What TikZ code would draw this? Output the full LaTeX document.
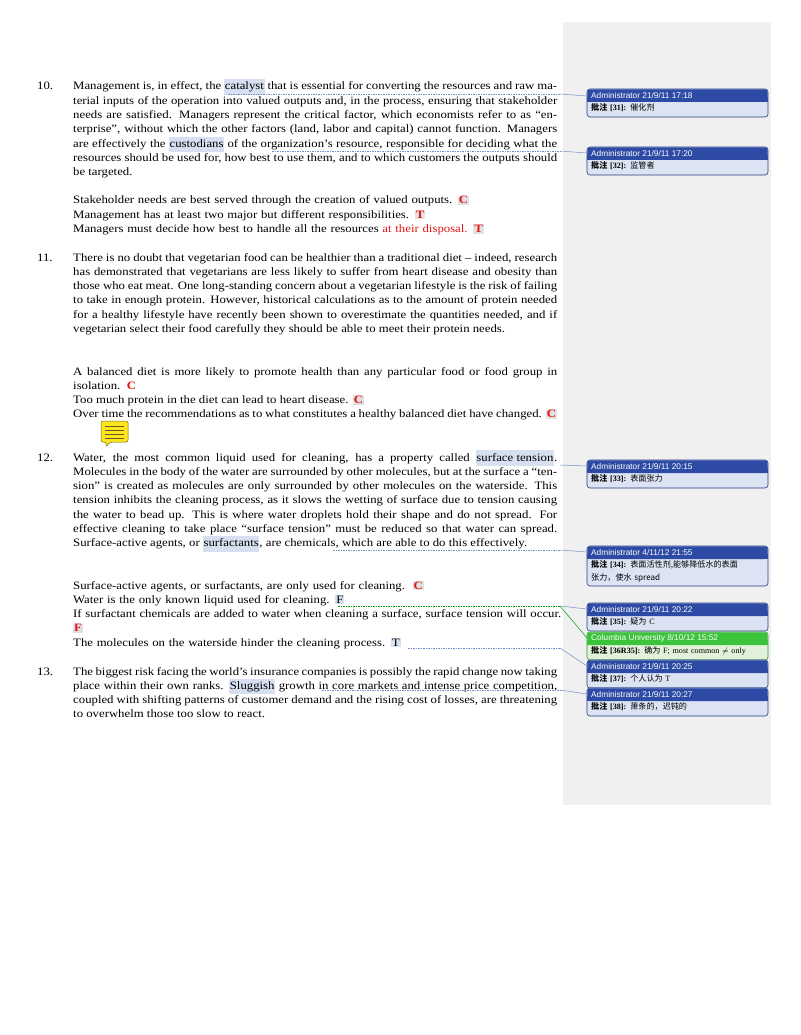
\documentclass[tikz,border=0pt]{standalone}
\usepackage{fontspec}
\setmainfont{Liberation Serif}[FakeStretch=1.13]
\newfontfamily\cmtserif{Liberation Serif}
\newfontfamily\cjk{Noto Sans CJK SC}
\newfontfamily\hsans{Liberation Sans}
\definecolor{hl}{RGB}{214,224,240}
\definecolor{ansbg}{RGB}{225,225,225}
\definecolor{ansred}{RGB}{230,20,20}
\definecolor{panel}{RGB}{240,240,240}
\definecolor{hdr}{RGB}{45,75,165}
\definecolor{bodyc}{RGB}{220,228,244}
\definecolor{ghdr}{RGB}{60,195,60}
\definecolor{gbody}{RGB}{226,242,218}
\definecolor{lnk}{RGB}{120,140,200}
\newcommand{\hlw}[1]{{\setlength{\fboxsep}{0.6pt}\colorbox{hl}{\strut #1}}}
\newcommand{\ans}[1]{{\setlength{\fboxsep}{1pt}\colorbox{ansbg}{\textcolor{ansred}{\textbf{#1}}}}}
\newcommand{\bans}[1]{{\setlength{\fboxsep}{1pt}\colorbox{hl}{#1}}}
\newcommand{\pz}[1]{{\cjk\bfseries 批注} {\cmtserif\bfseries [#1]:}}
\begin{document}
\begin{tikzpicture}[x=1pt,y=-1pt,
  para/.style={anchor=base west,inner sep=0pt,text width=484pt,align=justify,font=\fontsize{11.3}{14.3}\selectfont},
  lines/.style={anchor=base west,inner sep=0pt,text width=490pt,align=left,font=\fontsize{11.3}{14.3}\selectfont},
  num/.style={anchor=base west,inner sep=0pt,font=\fontsize{11.3}{14.3}\selectfont},
  chd/.style={anchor=west,inner sep=0pt,text=white,font=\hsans\fontsize{8.3}{10}\selectfont},
  cbd/.style={anchor=north west,inner sep=0pt,text width=176pt,align=left,font=\cjk\fontsize{8.1}{12.5}\selectfont},
  link/.style={lnk,line width=0.5pt},
  dlink/.style={lnk,line width=0.5pt,dash pattern=on 1.5pt off 1pt},
  glink/.style={green!60!black,line width=0.5pt}]
\useasboundingbox (0,0) rectangle (800,1035);
\fill[white] (0,0) rectangle (800,1035);
\fill[panel] (563,22) rectangle (771,805);

% Paragraph 10
\node[num] (n10) at (37,90) {10.};
\node[para] (p10) at (73,90) {Management is, in effect, the \hlw{catalyst} that is essential for converting the resources and raw material inputs of the operation into valued outputs and, in the process, ensuring that stakeholder needs are satisfied. Managers represent the critical factor, which economists refer to as ``enterprise'', without which the other factors (land, labor and capital) cannot function. Managers are effectively the \hlw{custodians} of the organization's resource, responsible for deciding what the resources should be used for, how best to use them, and to which customers the outputs should be targeted.};
\node[lines] (a10) at (73,204) {Stakeholder needs are best served through the creation of valued outputs. \ans{C}\\
Management has at least two major but different responsibilities. \ans{T}\\
Managers must decide how best to handle all the resources \textcolor{ansred}{at their disposal.} \ans{T}};

% Paragraph 11
\node[num] (n11) at (37,261) {11.};
\node[para] (p11) at (73,261) {There is no doubt that vegetarian food can be healthier than a traditional diet -- indeed, research has demonstrated that vegetarians are less likely to suffer from heart disease and obesity than those who eat meat. One long-standing concern about a vegetarian lifestyle is the risk of failing to take in enough protein. However, historical calculations as to the amount of protein needed for a healthy lifestyle have recently been shown to overestimate the quantities needed, and if vegetarian select their food carefully they should be able to meet their protein needs.};
\node[para] (a11) at (73,375) {A balanced diet is more likely to promote health than any particular food or food group in isolation.~~\textcolor{ansred}{\textbf{C}}\\
Too much protein in the diet can lead to heart disease. \ans{C}\\
Over time the recommendations as to what constitutes a healthy balanced diet have changed. \ans{C}};
% note icon
\filldraw[fill=yellow!85!orange!90!white,draw=olive!70!black,rounded corners=2pt,line width=0.5pt]
  (101,421) -- (128,421) -- (128,442) -- (110,442) -- (106,447) -- (106,442) -- (101,442) -- cycle;
\foreach \yy in {426,430,434,438} \draw[olive!60!black,line width=0.7pt] (105,\yy) -- (124,\yy);

% Paragraph 12
\node[num] (n12) at (37,461) {12.};
\node[para] (p12) at (73,461) {Water, the most common liquid used for cleaning, has a property called \hlw{surface tension}. Molecules in the body of the water are surrounded by other molecules, but at the surface a ``tension'' is created as molecules are only surrounded by other molecules on the waterside. This tension inhibits the cleaning process, as it slows the wetting of surface due to tension causing the water to bead up. This is where water droplets hold their shape and do not spread. For effective cleaning to take place ``surface tension'' must be reduced so that water can spread. Surface-active agents, or \hlw{surfactants}, are chemicals, which are able to do this effectively.};
\node[lines] (a12) at (73,589) {Surface-active agents, or surfactants, are only used for cleaning.~~\ans{C}\\
Water is the only known liquid used for cleaning. \bans{F}\\
If surfactant chemicals are added to water when cleaning a surface, surface tension will occur. \\ \ans{F}\\
The molecules on the waterside hinder the cleaning process. \bans{T}};

% Paragraph 13
\node[num] (n13) at (37,675) {13.};
\node[para] (p13) at (73,675) {The biggest risk facing the world's insurance companies is possibly the rapid change now taking place within their own ranks. \hlw{Sluggish} growth in core markets and intense price competition, coupled with shifting patterns of customer demand and the rising cost of losses, are threatening to overwhelm those too slow to react.};

% comments
\newcommand{\cmt}[7]{% name, top, header, body, hdrcol, bodycol, height
  \filldraw[fill=#6,draw=#5!80!black,rounded corners=3pt,line width=0.6pt] (587,#2) rectangle (768,#2+#7);
  \fill[#5,rounded corners=3pt] (587.3,#2+0.3) rectangle (767.7,#2+13);
  \fill[#5] (587.3,#2+8) rectangle (767.7,#2+13);
  \node[chd] (#1h) at (591,#2+6.8) {#3};
  \node[cbd] (#1) at (591,#2+14.5) {#4};}
\cmt{c31}{89}{Administrator 21/9/11 17:18}{\pz{31} 催化剂}{hdr}{bodyc}{28}
\cmt{c32}{147}{Administrator 21/9/11 17:20}{\pz{32} 监管者}{hdr}{bodyc}{28}
\cmt{c33}{460}{Administrator 21/9/11 20:15}{\pz{33} 表面张力}{hdr}{bodyc}{28}
\cmt{c34}{546}{Administrator 4/11/12 21:55}{\pz{34} 表面活性剂,能够降低水的表面\\张力，使水 spread}{hdr}{bodyc}{40}
\cmt{c35}{603}{Administrator 21/9/11 20:22}{\pz{35} 疑为 {\cmtserif C}}{hdr}{bodyc}{28}
\cmt{c36}{632}{Columbia University 8/10/12 15:52}{\pz{36R35} 确为 {\cmtserif F; most common $\neq$ only}}{ghdr}{gbody}{28}
\cmt{c37}{660}{Administrator 21/9/11 20:25}{\pz{37} 个人认为 {\cmtserif T}}{hdr}{bodyc}{28}
\cmt{c38}{688}{Administrator 21/9/11 20:27}{\pz{38} 萧条的，迟钝的}{hdr}{bodyc}{28}

% connectors
\coordinate (k31) at (560,94);
\draw[dlink] (228,94) -- (k31); \draw[link] (k31) -- (587,96);
\coordinate (k32) at (560,151);
\draw[dlink] (272,151) -- (k32); \draw[link] (k32) -- (587,153);
\coordinate (k33) at (560,465);
\draw[link] (k33) -- (587,466);
\coordinate (k34) at (560,550);
\draw[dlink] (333,550) -- (k34); \draw[link] (k34) -- (587,552);
\coordinate (k35) at (560,606);
\draw[glink,dash pattern=on 1.5pt off 1pt] (338,606) -- (k35);
\draw[link] (k35) -- (587,609); \draw[glink] (k35) -- (587,638);
\coordinate (k37) at (560,648);
\draw[dlink] (408,648) -- (k37); \draw[link] (k37) -- (587,666);
\coordinate (k38) at (560,690);
\draw[dlink] (322,690) -- (k38); \draw[link] (k38) -- (587,694);
\end{tikzpicture}
\end{document}
